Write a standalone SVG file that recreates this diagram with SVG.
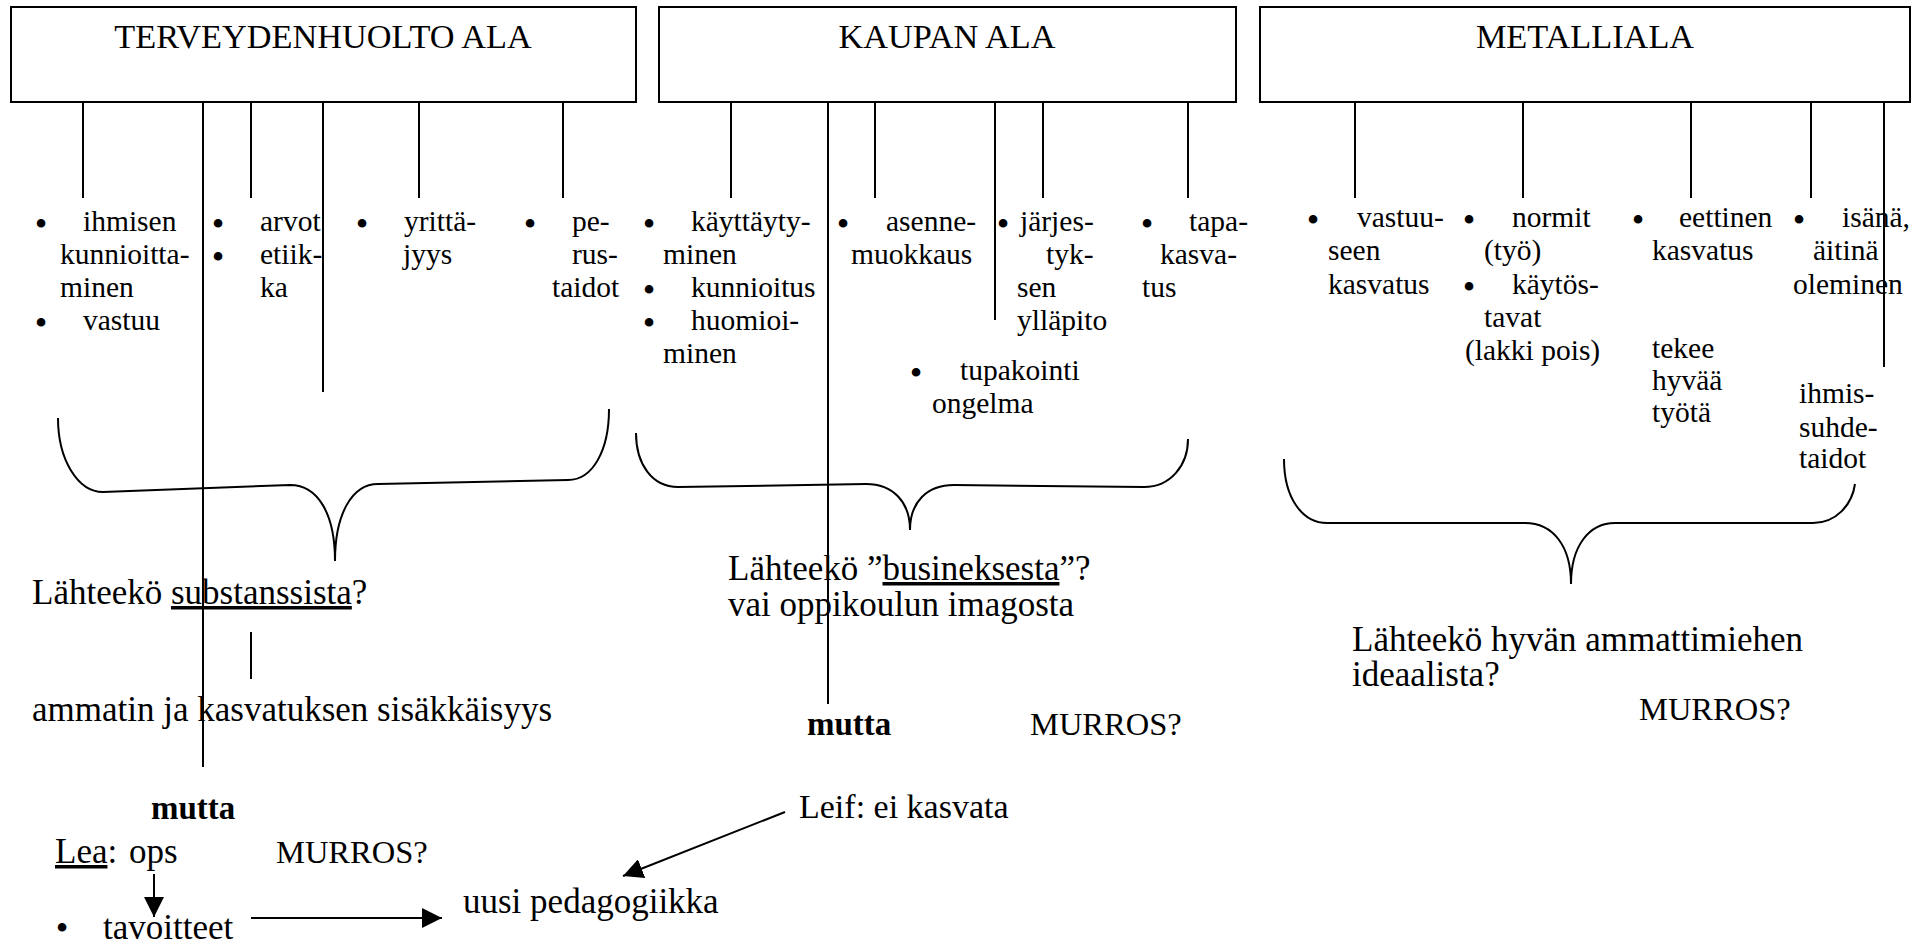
<svg xmlns="http://www.w3.org/2000/svg" width="1924" height="948" viewBox="0 0 1924 948">
  <style>
    .box { fill: #fff; stroke: #000; stroke-width: 2; }
    .ln { stroke: #000; stroke-width: 2; fill: none; }
    .brace { stroke: #000; stroke-width: 2; fill: none; }
    text { font-family: "Liberation Serif", "Times New Roman", serif; fill: #000; }
    .title { font-size: 34.3px; text-anchor: middle; }
    .b { font-size: 29.5px; }
    .bul { font-size: 36px; text-anchor: middle; }
    .m { font-size: 35px; }
    .mr { font-size: 32.5px; }
    .bold { font-size: 33px; font-weight: bold; }
  </style>
  <defs>
    <marker id="headBig" viewBox="0 0 20 20" refX="20" refY="10" markerWidth="20" markerHeight="20" markerUnits="userSpaceOnUse" orient="auto">
      <path d="M0,0 L20,10 L0,20 Z" fill="#000"/>
    </marker>
  </defs>

  <rect width="1924" height="948" fill="#fff"/>

  <!-- field boxes -->
  <g id="terveydenhuolto">
    <rect class="box" x="11" y="7" width="625" height="95"/>
    <text class="title" x="323" y="48">TERVEYDENHUOLTO ALA</text>
  </g>
  <g id="kauppa">
    <rect class="box" x="659" y="7" width="577" height="95"/>
    <text class="title" x="947" y="48">KAUPAN ALA</text>
  </g>
  <g id="metalli">
    <rect class="box" x="1260" y="7" width="650" height="95"/>
    <text class="title" x="1585" y="48">METALLIALA</text>
  </g>

  <!-- connectors -->
  <g id="connectors">
    <line class="ln" x1="83" y1="102" x2="83" y2="198"/>
    <line class="ln" x1="203" y1="102" x2="203" y2="767"/>
    <line class="ln" x1="251" y1="102" x2="251" y2="198"/>
    <line class="ln" x1="323" y1="102" x2="323" y2="392"/>
    <line class="ln" x1="419" y1="102" x2="419" y2="198"/>
    <line class="ln" x1="563" y1="102" x2="563" y2="198"/>

    <line class="ln" x1="731" y1="102" x2="731" y2="198"/>
    <line class="ln" x1="828" y1="102" x2="828" y2="704"/>
    <line class="ln" x1="875" y1="102" x2="875" y2="198"/>
    <line class="ln" x1="995" y1="102" x2="995" y2="320"/>
    <line class="ln" x1="1043" y1="102" x2="1043" y2="198"/>
    <line class="ln" x1="1188" y1="102" x2="1188" y2="198"/>

    <line class="ln" x1="1355" y1="102" x2="1355" y2="198"/>
    <line class="ln" x1="1523" y1="102" x2="1523" y2="198"/>
    <line class="ln" x1="1691" y1="102" x2="1691" y2="198"/>
    <line class="ln" x1="1811" y1="102" x2="1811" y2="198"/>
    <line class="ln" x1="1884" y1="102" x2="1884" y2="367"/>

    <line class="ln" x1="251" y1="632" x2="251" y2="679"/>

    <!-- braces -->
    <path class="brace" d="M58,418 C58,460 78,492 103,492 L290,485 C318,485 335,514 335,561 C335,514 352,484 378,484 L568,480 C593,480 609,450 609,409"/>
    <path class="brace" d="M636,433 C636,464 652,487 678,487 L866,484 C893,484 910,502 910,530 C910,502 927,485 954,485 L1144,487 C1170,487 1188,466 1188,439"/>
    <path class="brace" d="M1284,459 C1284,499 1303,523 1327,523 L1525,523 C1553,523 1571,546 1571,584 C1571,546 1589,523 1615,523 L1813,523 C1836,523 1852,505 1855,484"/>

    <!-- arrows -->
    <line class="ln" x1="154" y1="874" x2="154" y2="917" marker-end="url(#headBig)"/>
    <line class="ln" x1="251" y1="918" x2="442" y2="918" marker-end="url(#headBig)"/>
    <line class="ln" x1="785" y1="812" x2="623" y2="876" marker-end="url(#headBig)"/>
  </g>

  <!-- health care items -->
  <g id="terveys-items" transform="translate(0,3)">
    <text class="bul" x="41" y="233">•</text>
    <text class="b" x="83" y="228">ihmisen</text>
    <text class="b" x="60" y="261">kunnioitta-</text>
    <text class="b" x="60" y="294">minen</text>
    <text class="bul" x="41" y="332">•</text>
    <text class="b" x="83" y="327">vastuu</text>

    <text class="bul" x="218" y="233">•</text>
    <text class="b" x="260" y="228">arvot</text>
    <text class="bul" x="218" y="266">•</text>
    <text class="b" x="260" y="261">etiik-</text>
    <text class="b" x="260" y="294">ka</text>

    <text class="bul" x="362" y="233">•</text>
    <text class="b" x="404" y="228">yrittä-</text>
    <text class="b" x="403" y="261">jyys</text>

    <text class="bul" x="530" y="233">•</text>
    <text class="b" x="572" y="228">pe-</text>
    <text class="b" x="572" y="261">rus-</text>
    <text class="b" x="552" y="294">taidot</text>
  </g>

  <!-- trade items -->
  <g id="kauppa-items" transform="translate(0,3)">
    <text class="bul" x="649" y="233">•</text>
    <text class="b" x="691" y="228">käyttäyty-</text>
    <text class="b" x="663" y="261">minen</text>
    <text class="bul" x="649" y="299">•</text>
    <text class="b" x="691" y="294">kunnioitus</text>
    <text class="bul" x="649" y="332">•</text>
    <text class="b" x="691" y="327">huomioi-</text>
    <text class="b" x="663" y="360">minen</text>

    <text class="bul" x="843" y="233">•</text>
    <text class="b" x="886" y="228">asenne-</text>
    <text class="b" x="851" y="261">muokkaus</text>

    <text class="bul" x="916" y="382">•</text>
    <text class="b" x="960" y="377">tupakointi</text>
    <text class="b" x="932" y="410">ongelma</text>

    <text class="bul" x="1003" y="233">•</text>
    <text class="b" x="1020" y="228">järjes-</text>
    <text class="b" x="1046" y="261">tyk-</text>
    <text class="b" x="1017" y="294">sen</text>
    <text class="b" x="1017" y="327">ylläpito</text>

    <text class="bul" x="1147" y="233">•</text>
    <text class="b" x="1189" y="228">tapa-</text>
    <text class="b" x="1160" y="261">kasva-</text>
    <text class="b" x="1142" y="294">tus</text>
  </g>

  <!-- metal items -->
  <g id="metalli-items">
    <text class="bul" x="1313" y="232">•</text>
    <text class="b" x="1357" y="227">vastuu-</text>
    <text class="b" x="1328" y="260">seen</text>
    <text class="b" x="1328" y="294">kasvatus</text>

    <text class="bul" x="1469" y="232">•</text>
    <text class="b" x="1512" y="227">normit</text>
    <text class="b" x="1484" y="260">(työ)</text>
    <text class="bul" x="1469" y="299">•</text>
    <text class="b" x="1512" y="294">käytös-</text>
    <text class="b" x="1484" y="327">tavat</text>
    <text class="b" x="1465" y="360">(lakki pois)</text>

    <text class="bul" x="1638" y="232">•</text>
    <text class="b" x="1679" y="227">eettinen</text>
    <text class="b" x="1652" y="260">kasvatus</text>
    <text class="b" x="1652" y="358">tekee</text>
    <text class="b" x="1652" y="390">hyvää</text>
    <text class="b" x="1652" y="422">työtä</text>

    <text class="bul" x="1799" y="232">•</text>
    <text class="b" x="1842" y="227">isänä,</text>
    <text class="b" x="1813" y="260">äitinä</text>
    <text class="b" x="1793" y="294">oleminen</text>
    <text class="b" x="1799" y="403">ihmis-</text>
    <text class="b" x="1799" y="437">suhde-</text>
    <text class="b" x="1799" y="468">taidot</text>
  </g>

  <!-- questions and notes -->
  <g id="kysymys-terveys">
    <text class="m" x="32" y="604">Lähteekö <tspan text-decoration="underline">substanssista</tspan>?</text>
  </g>
  <g id="sisakkaisyys">
    <text class="m" x="32" y="721">ammatin ja kasvatuksen sisäkkäisyys</text>
  </g>
  <g id="mutta-1">
    <text class="bold" x="151" y="819">mutta</text>
  </g>
  <g id="lea">
    <text class="m" x="55" y="863"><tspan text-decoration="underline">Lea</tspan>: <tspan x="129">ops</tspan></text>
  </g>
  <g id="murros-1">
    <text class="mr" x="276" y="863">MURROS?</text>
  </g>
  <g id="tavoitteet">
    <text class="bul" x="62" y="940">•</text>
    <text class="m" x="103" y="939">tavoitteet</text>
  </g>
  <g id="pedagogiikka">
    <text class="m" x="463" y="913">uusi pedagogiikka</text>
  </g>
  <g id="kysymys-kauppa">
    <text class="m" x="728" y="580">Lähteekö ”<tspan text-decoration="underline">busineksesta</tspan>”?</text>
    <text class="m" x="728" y="616">vai oppikoulun imagosta</text>
  </g>
  <g id="mutta-2">
    <text class="bold" x="807" y="735">mutta</text>
  </g>
  <g id="murros-2">
    <text class="mr" x="1030" y="735">MURROS?</text>
  </g>
  <g id="leif">
    <text class="m" x="799" y="818" style="font-size:34px">Leif: ei kasvata</text>
  </g>
  <g id="kysymys-metalli">
    <text class="m" x="1352" y="651">Lähteekö hyvän ammattimiehen</text>
    <text class="m" x="1352" y="686">ideaalista?</text>
  </g>
  <g id="murros-3">
    <text class="mr" x="1639" y="720">MURROS?</text>
  </g>
</svg>
